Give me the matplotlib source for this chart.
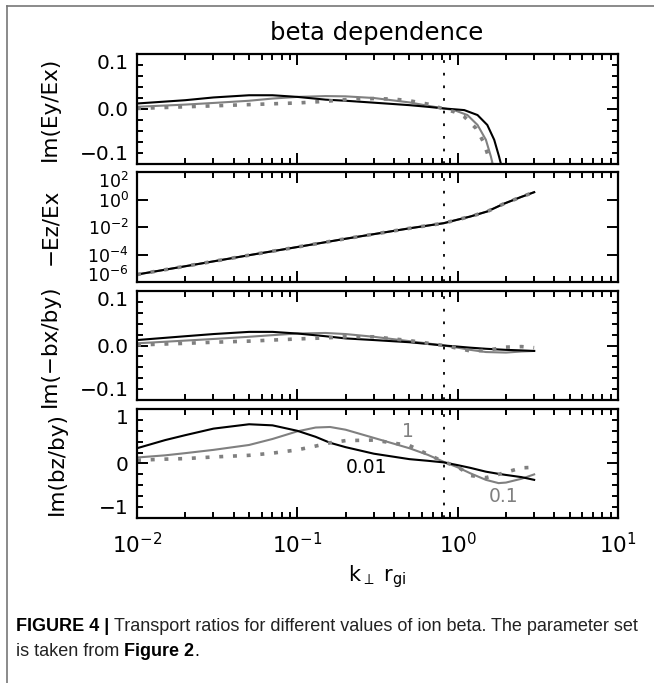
import matplotlib
matplotlib.use("Agg")
from matplotlib import pyplot as plt
from matplotlib.ticker import MultipleLocator, FixedLocator, NullLocator, FuncFormatter

plt.rcParams['font.family'] = ['DejaVu Sans']
plt.rcParams['mathtext.fontset'] = 'dejavusans'

# panel 1: Im(Ey/Ex)
k_ey_001 = [0.01, 0.02, 0.03, 0.05, 0.07, 0.1, 0.15, 0.2, 0.3, 0.5, 0.65, 0.82, 1.0, 1.1, 1.33, 1.53, 1.69, 1.81, 1.87]
ey_001 = [0.010, 0.016, 0.021, 0.025, 0.025, 0.022, 0.017, 0.015, 0.0115, 0.007, 0.004, 0.001, -0.001, -0.002, -0.011, -0.029, -0.056, -0.086, -0.102]
k_ey_01 = [0.01, 0.02, 0.03, 0.05, 0.07, 0.1, 0.15, 0.2, 0.3, 0.5, 0.65, 0.82, 0.95, 1.15, 1.33, 1.5, 1.61, 1.66]
ey_01 = [0.004, 0.008, 0.011, 0.015, 0.019, 0.022, 0.0235, 0.023, 0.020, 0.012, 0.006, 0.001, -0.002, -0.011, -0.029, -0.056, -0.086, -0.102]
k_ey_1 = [0.01, 0.02, 0.05, 0.1, 0.15, 0.2, 0.3, 0.4, 0.5, 0.65, 0.82, 0.95, 1.1, 1.3, 1.45, 1.55, 1.63]
ey_1 = [0.001, 0.004, 0.008, 0.011, 0.014, 0.017, 0.019, 0.018, 0.015, 0.009, 0.0, -0.005, -0.014, -0.035, -0.06, -0.085, -0.102]

# panel 2: -Ez/Ex (the three beta curves coincide)
k_ez = [0.01, 0.02, 0.05, 0.1, 0.2, 0.5, 0.82, 0.95, 1.2, 1.53, 1.94, 2.47, 3.0]
ez = [3.5e-6, 1.4e-5, 8.9e-5, 3.5e-4, 1.4e-3, 8.0e-3, 1.9e-2, 2.95e-2, 5.8e-2, 1.35e-1, 4.9e-1, 1.48, 3.4]

# panel 3: Im(-bx/by)
k_bx = [0.01, 0.02, 0.03, 0.05, 0.07, 0.1, 0.15, 0.2, 0.3, 0.5, 0.82, 1.0, 1.2, 1.5, 2.0, 2.5, 3.0]
bx_001 = [0.010, 0.017, 0.021, 0.025, 0.025, 0.022, 0.017, 0.013, 0.010, 0.006, 0.0, -0.002, -0.004, -0.006, -0.008, -0.009, -0.010]
bx_01 = [0.004, 0.009, 0.012, 0.016, 0.019, 0.022, 0.023, 0.021, 0.016, 0.008, 0.0, -0.004, -0.008, -0.012, -0.013, -0.011, -0.010]
bx_1 = [0.001, 0.004, 0.006, 0.008, 0.010, 0.012, 0.014, 0.016, 0.016, 0.009, 0.0, -0.005, -0.010, -0.009, -0.003, -0.002, -0.004]

# panel 4: Im(bz/by)
k_bz = [0.01, 0.015, 0.02, 0.03, 0.05, 0.07, 0.1, 0.13, 0.16, 0.2, 0.3, 0.5, 0.65, 0.82, 1.0, 1.2, 1.5, 1.8, 2.0, 2.5, 3.0]
bz_001 = [0.28, 0.43, 0.52, 0.64, 0.72, 0.70, 0.60, 0.49, 0.38, 0.30, 0.18, 0.08, 0.05, 0.02, -0.03, -0.08, -0.15, -0.19, -0.21, -0.25, -0.30]
bz_01 = [0.11, 0.15, 0.19, 0.25, 0.34, 0.45, 0.59, 0.66, 0.67, 0.62, 0.47, 0.28, 0.16, 0.03, -0.07, -0.18, -0.30, -0.36, -0.35, -0.28, -0.20]
bz_1 = [0.06, 0.08, 0.09, 0.12, 0.15, 0.19, 0.25, 0.32, 0.38, 0.42, 0.43, 0.33, 0.17, 0.03, -0.06, -0.22, -0.26, -0.20, -0.16, -0.08, -0.07]

k_mark = 0.82
beta_labels = ["1", "0.01", "0.1"]
beta_label_pos = [(0.49, 0.58), (0.27, -0.08), (1.94, -0.61)]
beta_label_col = ["#808080", "black", "#808080"]

ylabels = ["Im(Ey/Ex)", "\u2212Ez/Ex", "Im(\u2212bx/by)", "Im(bz/by)"]

W, H = 654, 683
fig = plt.figure(figsize=(W / 100, H / 100), dpi=100)

# background layer in pixel coords for frame and caption
bg = fig.add_axes([0, 0, 1, 1], zorder=-1)
bg.set_xlim(0, W)
bg.set_ylim(H, 0)
bg.axis('off')
bg.plot([7, 7], [6, H], color='#777777', lw=1.2)
bg.plot([7, W], [6, 6], color='#777777', lw=1.2)

panels = [(54, 164), (172, 282), (291, 400), (409, 518)]
x0, x1 = 137, 618
axes = []
for top, bot in panels:
    ax = fig.add_axes([x0 / W, 1 - bot / H, (x1 - x0) / W, (bot - top) / H])
    axes.append(ax)

black = 'black'
gray = '#808080'
dot = (0, (1.1, 2.7))
lw = 1.5

series = [
    [(k_ey_01, ey_01), (k_ey_001, ey_001), (k_ey_1, ey_1)],
    [(k_ez, ez), (k_ez, ez), (k_ez, ez)],
    [(k_bx, bx_01), (k_bx, bx_001), (k_bx, bx_1)],
    [(k_bz, bz_01), (k_bz, bz_001), (k_bz, bz_1)],
]

for i, ax in enumerate(axes):
    s01, s001, s1 = series[i]
    ax.plot(s01[0], s01[1], color=gray, lw=lw)
    ax.plot(s001[0], s001[1], color=black, lw=lw)
    ax.plot(s1[0], s1[1], color=gray, lw=2.6, linestyle=dot)
    ax.axvline(k_mark, color='black', lw=1.3, linestyle=(0, (1.5, 5.5)))
    ax.set_xscale('log')
    ax.set_xlim(1e-2, 1e1)
    for sp in ax.spines.values():
        sp.set_linewidth(1.6)
    ax.tick_params(which='both', direction='in', top=True, right=True,
                   width=1.4, labelsize=14.5, pad=6)
    ax.tick_params(which='major', length=8)
    ax.tick_params(which='minor', length=4)
    if i < 3:
        ax.tick_params(labelbottom=False)
    fig.text(50 / W if i < 3 else 57 / W, 1 - (panels[i][0] + panels[i][1]) / 2 / H,
             ylabels[i], rotation=90, ha='center', va='center', fontsize=15.5)

for ax in (axes[0], axes[2]):
    ax.set_ylim(-0.1, 0.1)
    ax.yaxis.set_major_locator(FixedLocator([-0.1, 0.0, 0.1]))
    ax.yaxis.set_minor_locator(MultipleLocator(0.02))
    ax.yaxis.set_major_formatter(FuncFormatter(lambda v, p: f"{v:.1f}".replace('-', '\u2212')))

ax = axes[1]
ax.set_yscale('log')
ax.set_ylim(1e-6, 1e2)
ax.yaxis.set_major_locator(FixedLocator([1e-6, 1e-4, 1e-2, 1e0, 1e2]))
ax.yaxis.set_minor_locator(NullLocator())
ax.tick_params(axis='y', labelsize=12.5)

ax = axes[3]
ax.set_ylim(-1, 1)
ax.yaxis.set_major_locator(FixedLocator([-1, 0, 1]))
ax.yaxis.set_minor_locator(MultipleLocator(0.2))
ax.yaxis.set_major_formatter(FuncFormatter(lambda v, p: f"{v:.0f}".replace('-', '\u2212')))
ax.tick_params(axis='x', pad=10, labelsize=15.5)
for txt, (xk, yv), c in zip(beta_labels, beta_label_pos, beta_label_col):
    ax.text(xk, yv, txt, color=c, fontsize=13.5, ha='center', va='center')

fig.text(377 / W, 1 - 33 / H, "beta dependence", ha='center', va='center', fontsize=17.5)
fig.text(377 / W, 1 - 577 / H, r"k$_{\perp}$ r$_{\mathrm{gi}}$", ha='center', va='center', fontsize=15)

# caption
cap_font = ['Liberation Sans Narrow', 'Liberation Sans', 'DejaVu Sans']
cap_size = 13
t1 = bg.text(16, 631, "FIGURE 4 | ", fontsize=cap_size, fontweight='bold', family=cap_font,
             va='baseline')
bg.annotate("Transport ratios for different values of ion beta. The parameter set",
            xy=(1, 0), xycoords=t1, va='bottom', fontsize=cap_size, family=cap_font,
            color='#222222')
t2 = bg.text(16, 656, "is taken from ", fontsize=cap_size, family=cap_font, va='baseline',
             color='#222222')
t3 = bg.annotate("Figure 2", xy=(1, 0), xycoords=t2, va='bottom', fontsize=cap_size,
                 fontweight='bold', family=cap_font)
bg.annotate(".", xy=(1, 0), xycoords=t3, va='bottom', fontsize=cap_size, family=cap_font)

# keep the end labels of each y axis inside the panel, as in the original
fig.canvas.draw()
for i, ax in enumerate(axes):
    lo, hi = ax.get_ylim()
    for tick in ax.yaxis.get_major_ticks():
        loc = tick.get_loc()
        if abs(loc - hi) <= 1e-9 * max(1, abs(hi)):
            tick.label1.set_va('top')
        elif abs(loc - lo) <= 1e-9 * max(1, abs(lo)):
            tick.label1.set_va('baseline' if i == 1 else 'bottom')

fig.savefig("out.png", dpi=100)
